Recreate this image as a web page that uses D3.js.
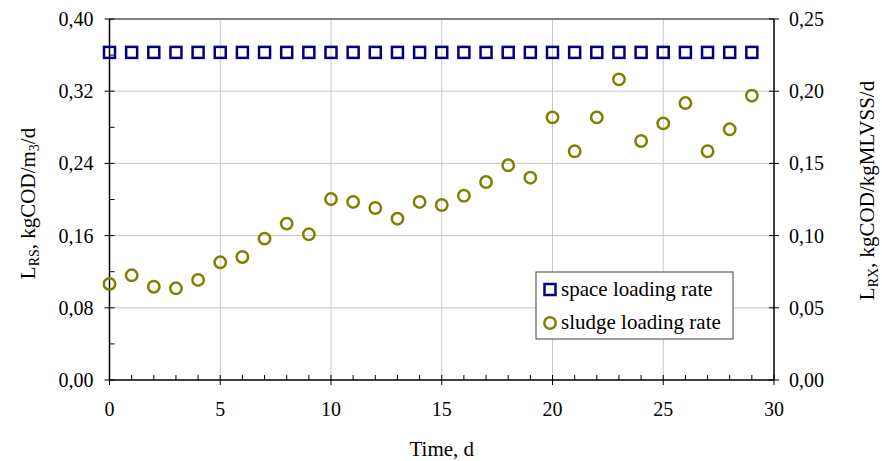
<!DOCTYPE html>
<html>
<head>
<meta charset="utf-8">
<script src="https://cdn.jsdelivr.net/npm/d3@7"></script>
<style>
  body { margin: 0; background: #fff; }
</style>
</head>
<body>
<div id="vis-holder"></div>
<script>
// days 0..29
var DAYS = d3.range(0, 30);
// space loading rate, kgCOD/m3/d (left axis)
var SPACE_RATE = [0.363,0.363,0.363,0.363,0.363,0.363,0.363,0.363,0.363,0.363,
                  0.363,0.363,0.363,0.363,0.363,0.363,0.363,0.363,0.363,0.363,
                  0.363,0.363,0.363,0.363,0.363,0.363,0.363,0.363,0.363,0.363];
// sludge loading rate, kgCOD/kgMLVSS/d (right axis)
var SLUDGE_RATE = [0.0665,0.0725,0.0646,0.0635,0.0693,0.0815,0.0852,0.0979,0.1083,0.1009,
                   0.1253,0.1233,0.1191,0.1117,0.1233,0.1212,0.1276,0.1371,0.1487,0.1401,
                   0.1819,0.1584,0.1819,0.2082,0.1655,0.1777,0.1918,0.1584,0.1736,0.1969];
var X_TICKS = [0, 5, 10, 15, 20, 25, 30];
var LEFT_TICKS = [0, 0.08, 0.16, 0.24, 0.32, 0.40];
var RIGHT_TICKS = [0, 0.05, 0.10, 0.15, 0.20, 0.25];
var LEGEND = ["space loading rate", "sludge loading rate"];

var W = 882, H = 461;
var margin = {top: 19, right: 108, bottom: 81, left: 109.5},
    width = W - margin.left - margin.right,
    height = H - margin.top - margin.bottom;

var svg = d3.select("#vis-holder")
  .append("svg")
    .attr("width", W)
    .attr("height", H)
    .attr("font-family", "'Liberation Serif', 'Times New Roman', Times, serif");

var g = svg.append("g")
    .attr("transform", "translate(" + margin.left + "," + margin.top + ")");

var x = d3.scaleLinear().domain([0, 30]).range([0, width]);
var yL = d3.scaleLinear().domain([0, 0.40]).range([height, 0]);
var yR = d3.scaleLinear().domain([0, 0.25]).range([height, 0]);

var fmt2 = function(d) { return d3.format(".2f")(d).replace(".", ","); };

// gridlines
g.append("g").selectAll("line.h")
  .data(LEFT_TICKS.slice(1, -1))
  .enter().append("line")
    .attr("x1", 0).attr("x2", width)
    .attr("y1", d => yL(d)).attr("y2", d => yL(d))
    .attr("stroke", "#c8c8c8").attr("stroke-width", 1);
g.append("g").selectAll("line.v")
  .data(X_TICKS.slice(1, -1))
  .enter().append("line")
    .attr("x1", d => x(d)).attr("x2", d => x(d))
    .attr("y1", 0).attr("y2", height)
    .attr("stroke", "#c8c8c8").attr("stroke-width", 1);

// top border
g.append("line")
  .attr("x1", 0).attr("x2", width)
  .attr("y1", yL(0.40)).attr("y2", yL(0.40))
  .attr("stroke", "#808080").attr("stroke-width", 2);

// minor ticks (inside)
var minor = g.append("g").attr("stroke", "#000").attr("stroke-width", 1);
minor.selectAll("line.mx")
  .data(d3.range(1, 30).filter(d => d % 5 != 0))
  .enter().append("line")
    .attr("x1", d => x(d)).attr("x2", d => x(d))
    .attr("y1", height).attr("y2", height - 5);
minor.selectAll("line.my")
  .data([0.04, 0.12, 0.20, 0.28, 0.36])
  .enter().append("line")
    .attr("x1", 0).attr("x2", 5)
    .attr("y1", d => yL(d)).attr("y2", d => yL(d));

// major ticks (crossing)
var major = g.append("g").attr("stroke", "#000").attr("stroke-width", 1);
major.selectAll("line.tx")
  .data(X_TICKS)
  .enter().append("line")
    .attr("x1", d => x(d)).attr("x2", d => x(d))
    .attr("y1", height - 5).attr("y2", height + 5);
major.selectAll("line.tl")
  .data(LEFT_TICKS)
  .enter().append("line")
    .attr("x1", -5).attr("x2", 5)
    .attr("y1", d => yL(d)).attr("y2", d => yL(d));
major.selectAll("line.tr")
  .data(RIGHT_TICKS)
  .enter().append("line")
    .attr("x1", width - 5).attr("x2", width + 5)
    .attr("y1", d => yR(d)).attr("y2", d => yR(d));

// axis lines
g.append("line").attr("x1", 0).attr("x2", 0).attr("y1", 0).attr("y2", height)
  .attr("stroke", "#000").attr("stroke-width", 1.5);
g.append("line").attr("x1", width).attr("x2", width).attr("y1", 0).attr("y2", height)
  .attr("stroke", "#000").attr("stroke-width", 1.5);
g.append("line").attr("x1", 0).attr("x2", width).attr("y1", height).attr("y2", height)
  .attr("stroke", "#000").attr("stroke-width", 1.5);

// tick labels
g.append("g").selectAll("text")
  .data(X_TICKS)
  .enter().append("text")
    .attr("x", d => x(d)).attr("y", height + 36)
    .attr("text-anchor", "middle")
    .attr("font-size", 20)
    .text(d => d);
g.append("g").selectAll("text")
  .data(LEFT_TICKS)
  .enter().append("text")
    .attr("x", -16).attr("y", d => yL(d) + 7)
    .attr("text-anchor", "end")
    .attr("font-size", 20)
    .text(fmt2);
g.append("g").selectAll("text")
  .data(RIGHT_TICKS)
  .enter().append("text")
    .attr("x", width + 15).attr("y", d => yR(d) + 7)
    .attr("text-anchor", "start")
    .attr("font-size", 20)
    .text(fmt2);

// axis titles
svg.append("text")
  .attr("x", margin.left + width / 2).attr("y", 456)
  .attr("text-anchor", "middle")
  .attr("font-size", 21)
  .text("Time, d");

var lt = svg.append("text")
  .attr("transform", "translate(35," + (margin.top + height / 2 + 4) + ") rotate(-90)")
  .attr("text-anchor", "middle")
  .attr("font-size", 21);
lt.append("tspan").text("L");
lt.append("tspan").attr("dy", 4).attr("font-size", 14).text("RS");
lt.append("tspan").attr("dy", -4).text(", kgCOD/m");
lt.append("tspan").attr("dy", 4).attr("font-size", 14).text("3");
lt.append("tspan").attr("dy", -4).text("/d");

var rt = svg.append("text")
  .attr("transform", "translate(874," + (margin.top + height / 2 - 9) + ") rotate(-90)")
  .attr("text-anchor", "middle")
  .attr("font-size", 21);
rt.append("tspan").text("L");
rt.append("tspan").attr("dy", 4).attr("font-size", 14).text("RX");
rt.append("tspan").attr("dy", -4).text(", kgCOD/kgMLVSS/d");

// space loading rate squares
g.append("g").selectAll("rect")
  .data(DAYS)
  .enter().append("rect")
    .attr("x", d => x(d) - 5.5)
    .attr("y", d => yL(SPACE_RATE[d]) - 5.5)
    .attr("width", 11).attr("height", 11)
    .attr("fill", "none")
    .attr("stroke", "#000080").attr("stroke-width", 2.5);

// sludge loading rate circles
g.append("g").selectAll("circle")
  .data(DAYS)
  .enter().append("circle")
    .attr("cx", d => x(d))
    .attr("cy", d => yR(SLUDGE_RATE[d]))
    .attr("r", 5.7)
    .attr("fill", "none")
    .attr("stroke", "#808000").attr("stroke-width", 2.5);

// legend
var lg = svg.append("g").attr("transform", "translate(536,272)");
lg.append("rect")
  .attr("width", 197).attr("height", 67)
  .attr("fill", "#fff").attr("stroke", "#404040").attr("stroke-width", 1);
lg.append("rect")
  .attr("x", 8.5).attr("y", 12).attr("width", 11).attr("height", 11)
  .attr("fill", "none").attr("stroke", "#000080").attr("stroke-width", 2.5);
lg.append("circle")
  .attr("cx", 14).attr("cy", 51).attr("r", 5.7)
  .attr("fill", "none").attr("stroke", "#808000").attr("stroke-width", 2.5);
lg.selectAll("text.lg")
  .data(LEGEND)
  .enter().append("text")
    .attr("x", 25).attr("y", (d, i) => 24 + i * 33)
    .attr("font-size", 21)
    .text(d => d);
</script>
</body>
</html>
